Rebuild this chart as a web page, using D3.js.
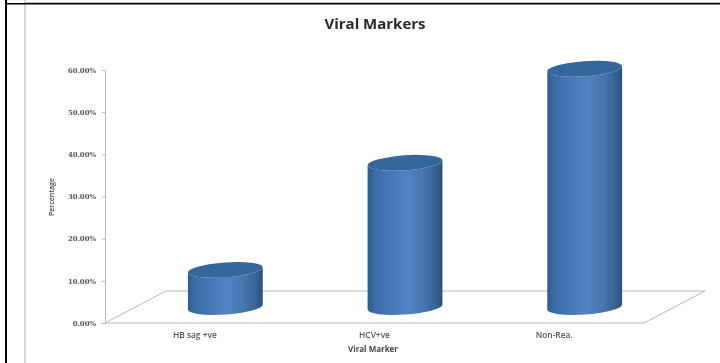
<!DOCTYPE html>
<html><head><meta charset="utf-8">
<style>html,body{margin:0;padding:0;background:#fff}svg{display:block}text{font-family:"Open Sans",sans-serif}</style>
<script src="https://cdnjs.cloudflare.com/ajax/libs/d3/7.8.5/d3.min.js"></script>
</head><body><svg id="c" width="720" height="363"></svg>
<script>
const categories = ["HB sag +ve", "HCV+ve", "Non-Rea."];
const percentages = [8.8, 34.2, 56.5];
const yTicks = [0, 10, 20, 30, 40, 50, 60];
const titleText = "Viral Markers", xTitle = "Viral Marker", yTitle = "Percentage";

const svg = d3.select("#c");
const defs = svg.append("defs");
const mkBlur = (id, s) => defs.append("filter").attr("id",id).attr("x","-10%").attr("y","-10%").attr("width","120%").attr("height","120%")
  .append("feGaussianBlur").attr("stdDeviation",s);
mkBlur("soft",0.4); mkBlur("softer",0.55);
const grad = defs.append("linearGradient").attr("id","cyl").attr("x1","0").attr("x2","1").attr("y1","0").attr("y2","0");
[[0,"#2c5c94"],[0.1,"#3a6ca8"],[0.3,"#4678b5"],[0.55,"#5283c2"],[0.75,"#4675ac"],[0.9,"#386494"],[1,"#284f7c"]]
  .forEach(([o,c])=>grad.append("stop").attr("offset",o).attr("stop-color",c));

// page frame
svg.append("rect").attr("x",24).attr("y",0).attr("width",2).attr("height",363).attr("fill","#d6d6d6");
svg.append("rect").attr("x",25).attr("y",2).attr("width",695).attr("height",1).attr("fill","#c4c4c4");
svg.append("rect").attr("x",5).attr("y",0).attr("width",2).attr("height",363).attr("fill","#000");
svg.append("rect").attr("x",5).attr("y",3).attr("width",715).attr("height",1.5).attr("fill","#000");

const left = 105, right = 644, depthX = 61, depthY = 32;
const y = d3.scaleLinear().domain([0,60]).range([323,70]);
const x = d3.scaleBand().domain(categories).range([left,right]);
const axisColor = "#b8b8b8";

// floor
const floorLine = d3.line();
svg.append("path").attr("fill","none").attr("stroke",axisColor).attr("stroke-width",1).attr("filter","url(#soft)")
  .attr("d",floorLine([[left,y(0)],[left+depthX,y(0)-depthY],[right+depthX,y(0)-depthY],[right,y(0)],[left,y(0)]]));

// y axis
const axisY = d3.axisLeft(y).tickValues(yTicks).tickSize(3).tickPadding(6).tickFormat(d=>d.toFixed(2)+"%");
const gy = svg.append("g").attr("transform",`translate(${left},0)`).attr("filter","url(#soft)").call(axisY);
gy.selectAll("path,line").attr("stroke",axisColor);
gy.select("path").attr("stroke-width",1);
gy.selectAll("text").attr("font-weight",700).attr("fill","#555")
  .style("font-family","'DejaVu Serif',serif").attr("font-size",6.9);

// x labels
svg.append("g").attr("filter","url(#soft)").selectAll("text").data(categories).join("text")
  .attr("x",d=>x(d)+x.bandwidth()/2).attr("y",338).attr("text-anchor","middle")
  .attr("font-size",8.4).attr("font-weight",600).attr("fill","#555").text(d=>d);

// cylinders
const rx = 37.5, ry = 7.5, tilt = -4, rad = tilt*Math.PI/180;
const dx = rx*Math.cos(rad), dy = rx*Math.sin(rad);
const g = svg.append("g").attr("filter","url(#soft)");
percentages.forEach((v,i)=>{
  const cx = x(categories[i]) + x.bandwidth()/2 + depthX/2;
  const by = y(0) - depthY/2, ty = y(v) - depthY/2;
  const body = `M${cx-dx},${ty-dy}L${cx-dx},${by-dy}A${rx},${ry} ${tilt} 0 0 ${cx+dx},${by+dy}L${cx+dx},${ty+dy}A${rx},${ry} ${tilt} 0 1 ${cx-dx},${ty-dy}Z`;
  g.append("path").attr("d",body).attr("fill","url(#cyl)");
  g.append("ellipse").attr("rx",rx).attr("ry",ry)
    .attr("transform",`translate(${cx},${ty}) rotate(${tilt})`).attr("fill","#36669c");
});

// titles
svg.append("text").attr("x",375).attr("y",29).attr("text-anchor","middle").attr("font-size",15)
  .attr("font-weight",700).attr("fill","#2a2a2a").attr("filter","url(#soft)").text(titleText);
svg.append("text").attr("x",373).attr("y",352).attr("text-anchor","middle").attr("font-size",8)
  .attr("font-weight",700).attr("fill","#444").attr("filter","url(#soft)").text(xTitle);
svg.append("text").attr("transform","translate(54,197) rotate(-90)").attr("text-anchor","middle").attr("font-size",7)
  .attr("font-weight",600).attr("fill","#444").attr("filter","url(#soft)").text(yTitle);
</script></body></html>
